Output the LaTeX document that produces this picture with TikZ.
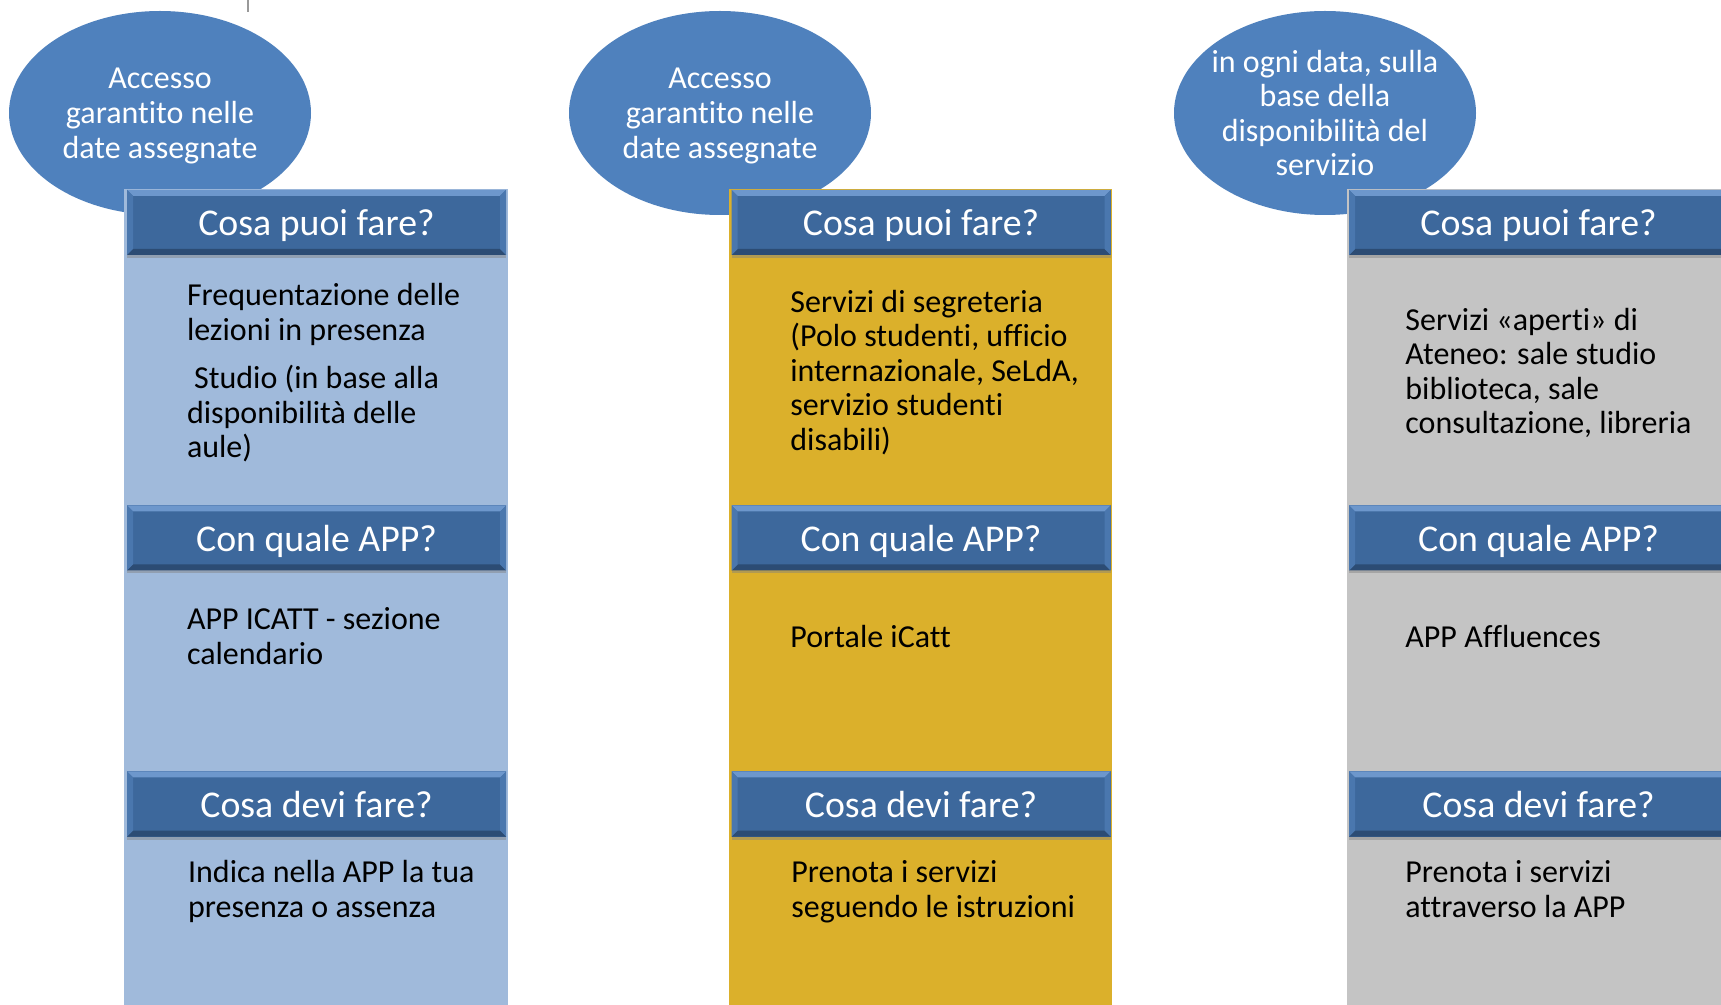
\documentclass[tikz,border=0pt]{standalone}
\usepackage{fontspec}
\setmainfont{Carlito}[Ligatures={NoCommon}]
\usetikzlibrary{shapes.geometric,shadows}
\definecolor{ellblue}{HTML}{4F81BD}
\definecolor{hdrblue}{HTML}{3D689C}
\definecolor{hdrlight}{HTML}{6D97CC}
\definecolor{hdrside}{HTML}{4A77AE}
\definecolor{hdrdark}{HTML}{2C4C74}
\definecolor{colA}{HTML}{A0BADB}
\definecolor{colB}{HTML}{DBB02B}
\definecolor{colC}{HTML}{C4C4C4}
\tikzset{
  ellbox/.style={ellipse, fill=ellblue, minimum width=151pt, minimum height=102pt, inner sep=0pt},
  elltxt/.style={text=white, align=center, inner sep=0pt, font=\fontsize{16}{17.3}\selectfont},
  hdrbar/.style={fill=hdrblue, minimum width=189.5pt, minimum height=32.5pt, inner sep=0pt,
    text=white, font=\fontsize{18.9}{20}\selectfont, text height=13.4pt, text depth=0pt,
    drop shadow={opacity=0.45, shadow xshift=0pt, shadow yshift=-1.5pt},
    path picture={
      \fill[hdrlight] (path picture bounding box.north west) -- (path picture bounding box.north east)
        -- ([shift={(-3pt,-3pt)}]path picture bounding box.north east) -- ([shift={(3pt,-3pt)}]path picture bounding box.north west) -- cycle;
      \fill[hdrdark] (path picture bounding box.south west) -- (path picture bounding box.south east)
        -- ([shift={(-3pt,3pt)}]path picture bounding box.south east) -- ([shift={(3pt,3pt)}]path picture bounding box.south west) -- cycle;
      \fill[hdrside] (path picture bounding box.north west) -- ([shift={(3pt,-3pt)}]path picture bounding box.north west)
        -- ([shift={(3pt,3pt)}]path picture bounding box.south west) -- (path picture bounding box.south west) -- cycle;
      \fill[hdrside] (path picture bounding box.north east) -- ([shift={(-3pt,-3pt)}]path picture bounding box.north east)
        -- ([shift={(-3pt,3pt)}]path picture bounding box.south east) -- (path picture bounding box.south east) -- cycle;
    }},
  bodytxt/.style={anchor=base west, align=left, inner sep=0pt, font=\fontsize{16}{17.3}\selectfont, text=black}
}
\begin{document}
\begin{tikzpicture}[x=0.5pt,y=-0.5pt]
\useasboundingbox (0,0) rectangle (1721,1005);
\clip (0,0) rectangle (1721,1005);
\fill[white] (0,0) rectangle (1721,1005);
% small cut-off mark at the top
\draw[gray!80, line width=1.2pt] (248,0) -- (248,12);
% ellipses
\node[ellbox] (e1) at (160,113) {};
\node[ellbox] (e2) at (720,113) {};
\node[ellbox] (e3) at (1325,113) {};
% column bodies
\fill[colA] (124,189) rectangle (508,1010);
\fill[colB] (729,189) rectangle (1112,1010);
\fill[colC] (1347,189) rectangle (1740,1010);
% ellipse texts
\node[elltxt] (t1) at ([yshift=-1.5pt]e1.center) {Accesso\\garantito nelle\\date assegnate};
\node[elltxt] (t2) at ([yshift=-1.5pt]e2.center) {Accesso\\garantito nelle\\date assegnate};
\node[elltxt] (t3) at (e3) {in ogni data, sulla\\base della\\disponibilità del\\servizio};
% header bars
\node[hdrbar] (h1a) at (316.5,222.5) {Cosa puoi fare?};
\node[hdrbar] (h1b) at (316.5,538) {Con quale APP?};
\node[hdrbar] (h1c) at (316.5,804) {Cosa devi fare?};
\node[hdrbar] (h2a) at (921,222.5) {Cosa puoi fare?};
\node[hdrbar] (h2b) at (921,538) {Con quale APP?};
\node[hdrbar] (h2c) at (921,804) {Cosa devi fare?};
\node[hdrbar] (h3a) at (1538.5,222.5) {Cosa puoi fare?};
\node[hdrbar] (h3b) at (1538.5,538) {Con quale APP?};
\node[hdrbar] (h3c) at (1538.5,804) {Cosa devi fare?};
% body texts column 1 (anchored at the baseline of the last line)
\node[bodytxt] (b1a) at (186.6,458) {Frequentazione delle\\lezioni in presenza\\[7pt]\ Studio (in base alla\\disponibilità delle\\aule)};
\node[bodytxt] (b1b) at (186.6,664.5) {APP ICATT - sezione\\calendario};
\node[bodytxt] (b1c) at (187.7,917) {Indica nella APP la tua\\presenza o assenza};
% column 2
\node[bodytxt] (b2a) at (790,450.5) {Servizi di segreteria\\(Polo studenti, ufficio\\internazionale, SeLdA,\\servizio studenti\\disabili)};
\node[bodytxt] (b2b) at (790,648) {Portale iCatt};
\node[bodytxt] (b2c) at (791,917) {Prenota i servizi\\seguendo le istruzioni};
% column 3
\node[bodytxt] (b3a) at (1405,434) {Servizi «aperti» di\\Ateneo: sale studio\\biblioteca, sale\\consultazione, libreria};
\node[bodytxt] (b3b) at (1405,648) {APP Affluences};
\node[bodytxt] (b3c) at (1405,917) {Prenota i servizi\\attraverso la APP};
\end{tikzpicture}
\end{document}
